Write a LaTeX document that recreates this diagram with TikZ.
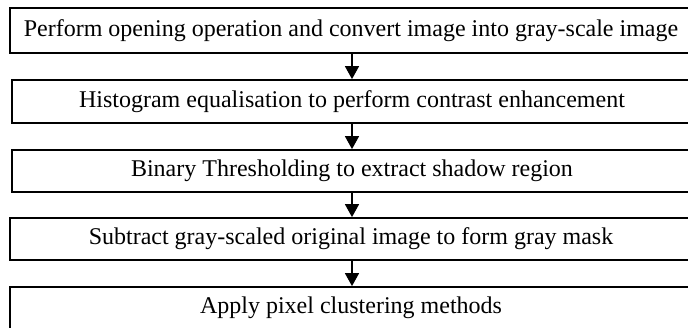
\documentclass[tikz,border=0pt]{standalone}
\usepackage{fontspec}
\setmainfont{Liberation Serif}
\usetikzlibrary{arrows.meta}
\begin{document}
\begin{tikzpicture}[x=1pt,y=1pt,
  stepbox/.style={draw=black, line width=1.8pt, inner sep=0pt, font=\fontsize{24}{28}\selectfont, text=black},
  flow/.style={line width=1.6pt, -{Triangle[width=14pt,length=13pt]}}]
\clip (0,0) rectangle (688,327);
\fill[white] (0,0) rectangle (688,327);
\node[stepbox, minimum width=682pt, minimum height=45pt] (b1) at (351,296.5) {Perform opening operation and convert image into gray-scale image};
\node[stepbox, minimum width=680pt, minimum height=43pt] (b2) at (352,225.5) {Histogram equalisation to perform contrast enhancement};
\node[stepbox, minimum width=680pt, minimum height=42pt] (b3) at (352,156) {Binary Thresholding to extract shadow region};
\node[stepbox, minimum width=682pt, minimum height=42pt] (b4) at (351,88) {Subtract gray-scaled original image to form gray mask};
\node[stepbox, minimum width=682pt, minimum height=42pt] (b5) at (351,19) {Apply pixel clustering methods};
\draw[flow] (b1.south -| 352,0) -- (b2.north -| 352,0);
\draw[flow] (b2.south -| 352,0) -- (b3.north -| 352,0);
\draw[flow] (b3.south -| 352,0) -- (b4.north -| 352,0);
\draw[flow] (b4.south -| 352,0) -- (b5.north -| 352,0);
\end{tikzpicture}
\end{document}
